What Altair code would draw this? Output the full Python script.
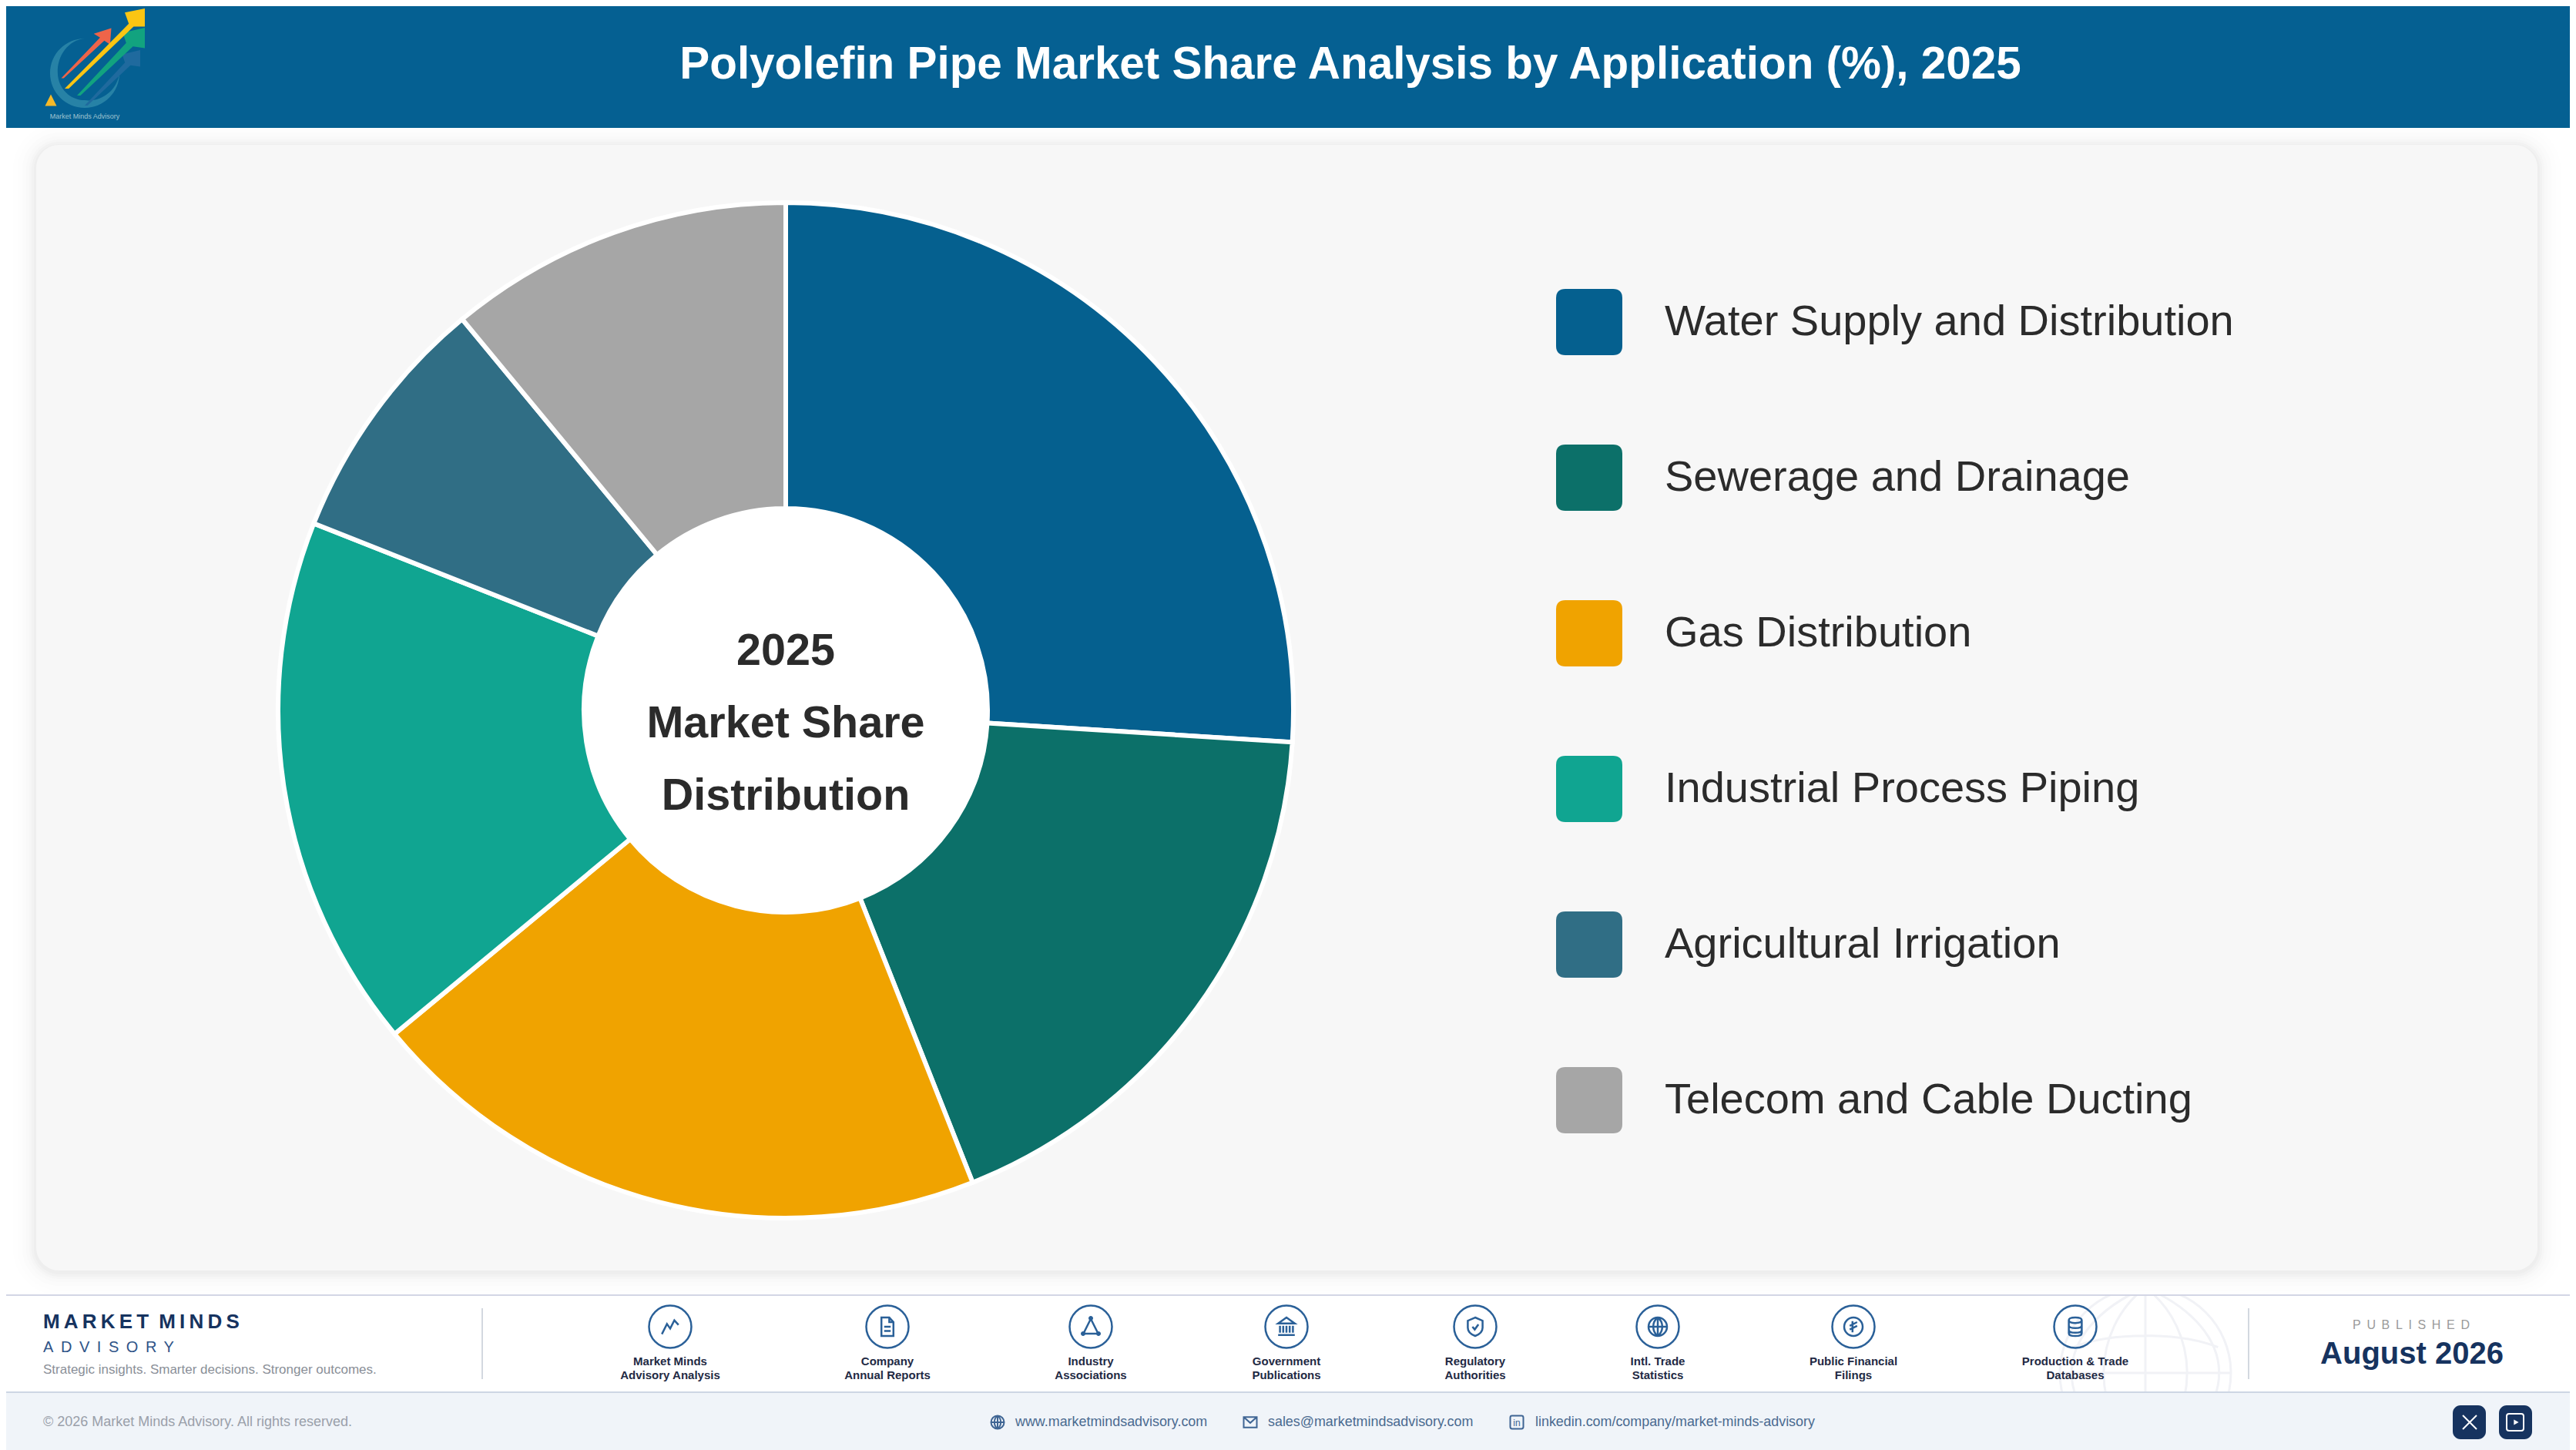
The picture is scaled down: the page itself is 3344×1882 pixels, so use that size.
import pandas as pd
import altair as alt

# chart values
applications = ["Water Supply and Distribution", "Sewerage and Drainage", "Gas Distribution",
                "Industrial Process Piping", "Agricultural Irrigation", "Telecom and Cable Ducting"]
shares = [26, 18, 20, 17, 8, 11]
colors = ["#05608f", "#0c7069", "#f0a300", "#10a591", "#306e85", "#a6a6a6"]

# texts
title_text = "Polyolefin Pipe Market Share Analysis by Application (%), 2025"
center_lines = ["2025", "Market Share", "Distribution"]
source_names = [["Market Minds", "Advisory Analysis"], ["Company", "Annual Reports"], ["Industry", "Associations"],
                ["Government", "Publications"], ["Regulatory", "Authorities"], ["Intl. Trade", "Statistics"],
                ["Public Financial", "Filings"], ["Production & Trade", "Databases"]]
source_x = [870, 1152, 1416, 1670, 1915, 2152, 2406, 2694]

FONT = "Liberation Sans"
HEADER = "#056092"
NAVY = "#16335f"
ICON = "#2a6098"
OFF = 8  # page margin, reference pixels -> chart pixels
seed = pd.DataFrame({"a": [0]})


def rect(x0, y0, x1, y1, fill, radius=0, opacity=1):
    return alt.Chart(seed).mark_rect(fill=fill, cornerRadius=radius, opacity=opacity).encode(
        x=alt.value(x0 - OFF), x2=alt.value(x1 - OFF), y=alt.value(y0 - OFF), y2=alt.value(y1 - OFF))


def label(text, x, y, size, color, bold=False, align="left"):
    return alt.Chart(seed).mark_text(text=text, font=FONT, fontSize=size, color=color, align=align,
                                     baseline="middle", fontWeight="bold" if bold else "normal").encode(
        x=alt.value(x - OFF), y=alt.value(y - OFF))


def icon(path, x, y, side, stroke=ICON, width=2.5, fill=None, opacity=1):
    if fill:
        mark = alt.Chart(seed).mark_point(shape=path, size=side ** 2, filled=True, fill=fill, strokeWidth=0, opacity=opacity)
    else:
        mark = alt.Chart(seed).mark_point(shape=path, size=side ** 2, filled=False, stroke=stroke, strokeWidth=width, opacity=opacity)
    return mark.encode(x=alt.value(x - OFF), y=alt.value(y - OFF))


CIRCLE = "M-1,0A1,1 0 1,1 1,0A1,1 0 1,1 -1,0Z"
GLOBE = CIRCLE + "M-1,0H1M0,-1V1M0,-1C-0.65,-0.5 -0.65,0.5 0,1M0,-1C0.65,-0.5 0.65,0.5 0,1"
WATERMARK = GLOBE + "M-0.85,-0.3C-0.4,-0.48 0.4,-0.48 0.85,-0.3M0,-1C-1.15,-0.5 -1.15,0.5 0,1M0,-1C1.15,-0.5 1.15,0.5 0,1"
ROUND_SQUARE = "M-0.72,-1H0.72Q1,-1 1,-0.72V0.72Q1,1 0.72,1H-0.72Q-1,1 -1,0.72V-0.72Q-1,-1 -0.72,-1Z"
source_icons = [
    "M-0.9,0.8L-0.35,-0.3L0,0.2L0.45,-0.7L0.9,-0.2",
    "M-0.65,-1H0.2L0.65,-0.5V1H-0.65ZM0.2,-1V-0.5H0.65M-0.35,0H0.35M-0.35,0.45H0.35",
    "M0,-0.85L0.8,0.75H-0.8Z",
    "M0,-1L0.9,-0.35H-0.9ZM-0.7,-0.1V0.65M-0.35,-0.1V0.65M0,-0.1V0.65M0.35,-0.1V0.65M0.7,-0.1V0.65M-0.9,0.9H0.9",
    "M0,-1L0.8,-0.65V0.1C0.8,0.55 0.4,0.85 0,1C-0.4,0.85 -0.8,0.55 -0.8,0.1V-0.65ZM-0.3,0L-0.05,0.3L0.35,-0.25",
    GLOBE,
    CIRCLE + "M0.4,-0.5L-0.4,-0.1M0.4,-0.1L-0.4,0.3M-0.1,-0.6V0.6",
    "M-0.7,-0.7C-0.7,-1.1 0.7,-1.1 0.7,-0.7V0.7C0.7,1.1 -0.7,1.1 -0.7,0.7ZM-0.7,-0.7C-0.7,-0.3 0.7,-0.3 0.7,-0.7M-0.7,-0.15C-0.7,0.25 0.7,0.25 0.7,-0.15M-0.7,0.35C-0.7,0.75 0.7,0.75 0.7,0.35",
]

layers = []

# page bands
layers.append(rect(0, 0, 3352, 1890, "#ffffff"))
layers.append(icon(WATERMARK, 2785, 1782, 222, stroke="#f1f2f6", width=3))
layers.append(rect(0, 1560, 3352, 1680, "#ffffff"))
layers.append(rect(0, 0, 3352, 166, HEADER))

# logo
layers.append(icon("M0,-1A1,1 0 1,0 1,0A0.9,0.9 0 0,1 0,0.78A0.78,0.8 0 0,1 -0.78,0A0.85,0.95 0 0,1 0,-1Z", 110, 95, 90, fill="#2b86a8", opacity=0.9))
layers.append(icon("M-1,1L0.55,-0.62L0.3,-0.78L1,-1L0.95,-0.35L0.72,-0.5L-0.9,1Z", 112, 69, 65, fill="#ee6449"))
layers.append(icon("M-1,1L0.45,-0.55L0.35,-0.85L1,-1L1,-0.4L0.65,-0.45L-0.9,1Z", 146, 101, 72, fill="#1f6a9e"))
layers.append(icon("M-1,1L0.45,-0.55L0.35,-0.85L1,-1L1,-0.4L0.65,-0.45L-0.9,1Z", 144, 80, 88, fill="#12a37f"))
layers.append(icon("M-1,1L0.6,-0.62L0.5,-0.9L1,-1L1,-0.55L0.72,-0.55L-0.9,1Z", 136, 63, 104, fill="#fbc513"))
layers.append(icon("M0,-1L1,1H-1Z", 66, 130, 15, fill="#f7b928"))
layers.append(label("Market Minds Advisory", 110, 151, 9, "#9fc3d0", align="center"))

# header title
layers.append(label(title_text, 1753, 84, 58.4, "#ffffff", bold=True, align="center"))

# card with a soft shadow
for spread, alpha in [(30, 0.006), (24, 0.008), (18, 0.012), (13, 0.016), (9, 0.02), (6, 0.022), (3, 0.024)]:
    layers.append(rect(47 - spread, 188 - spread + 2, 3294 + spread, 1649 + spread + 2, "#606060", radius=30 + spread, opacity=alpha))
layers.append(rect(47, 188, 3294, 1649, "#f7f7f7", radius=30))

# donut
pie_df = pd.DataFrame({"application": applications, "share": shares, "idx": list(range(len(shares)))})
donut = alt.Chart(pie_df).mark_arc(innerRadius=262, outerRadius=659, stroke="#ffffff", strokeWidth=6).encode(
    theta=alt.Theta("share:Q", stack=True),
    order=alt.Order("idx:Q"),
    color=alt.Color("application:N", sort=applications,
                    scale=alt.Scale(domain=applications, range=colors),
                    legend=alt.Legend(orient="none", legendX=2020 - OFF, legendY=375 - OFF, title=None, padding=0,
                                      symbolType=ROUND_SQUARE, symbolSize=7396, symbolStrokeWidth=0, symbolOpacity=1,
                                      labelFont=FONT, labelFontSize=56, labelColor="#2b2b2b", labelLimit=0,
                                      labelOffset=55, rowPadding=116)),
    x=alt.value(1020 - OFF),
    y=alt.value(922 - OFF),
)
layers.append(donut)
layers.append(icon(CIRCLE, 1020, 922, 522, fill="#ffffff"))
for line, y in zip(center_lines, [846, 940, 1034]):
    layers.append(label(line, 1020, y, 57.5, "#2b2b2b", bold=True, align="center"))

# footer
layers.append(rect(0, 1680, 3352, 1682, "#d3d6e5"))
layers.append(rect(0, 1806, 3352, 1890, "#f0f4f9"))
layers.append(rect(0, 1806, 3352, 1808, "#cdd6e4"))

layers.append(label("M\u2009A\u2009R\u2009K\u2009E\u2009T\u2002M\u2009I\u2009N\u2009D\u2009S", 56, 1716, 26, NAVY, bold=True))
layers.append(label("A\u2009 D\u2009 V\u2009 I\u2009 S\u2009 O\u2009 R\u2009 Y", 56, 1749, 20, "#2f5488"))
layers.append(label("Strategic insights. Smarter decisions. Stronger outcomes.", 56, 1778, 17, "#8a8f98"))
layers.append(rect(625, 1698, 627, 1790, "#d3d8e0"))

for names, x, path in zip(source_names, source_x, source_icons):
    layers.append(icon(CIRCLE, x, 1722, 55, width=2.5))
    layers.append(icon(path, x, 1722, 24, width=2.5))
    layers.append(label(names[0], x, 1767, 15, "#1f2a44", bold=True, align="center"))
    layers.append(label(names[1], x, 1785, 15, "#1f2a44", bold=True, align="center"))
for dx, dy in [(0, -11), (-10, 9), (10, 9)]:
    layers.append(icon(CIRCLE, 1416 + dx, 1722 + dy, 6, fill=ICON))

layers.append(rect(2918, 1698, 2920, 1790, "#d3d8e0"))
layers.append(label("P\u2009 U\u2009 B\u2009 L\u2009 I\u2009 S\u2009 H\u2009 E\u2009 D", 3130, 1720, 16, "#9a9a9a", align="center"))
layers.append(label("August 2026", 3131, 1758, 40, NAVY, bold=True, align="center"))

layers.append(label("\u00a9 2026 Market Minds Advisory. All rights reserved.", 56, 1846, 18, "#9aa0aa"))
for x, path in [(1295, GLOBE), (1969, ROUND_SQUARE)]:
    layers.append(icon(path, x, 1846, 17, stroke="#3f6594", width=2))
layers.append(icon("M-1,-0.8H1V0.8H-1ZM-1,-0.8L0,0.1L1,-0.8", 1623, 1846, 17, stroke="#3f6594", width=2))
layers.append(label("in", 1969, 1847, 12, "#3f6594", align="center"))
layers.append(label("www.marketmindsadvisory.com", 1318, 1846, 17.9, "#4a6a90"))
layers.append(label("sales@marketmindsadvisory.com", 1646, 1846, 17.9, "#4a6a90"))
layers.append(label("linkedin.com/company/market-minds-advisory", 1993, 1846, 17.9, "#4a6a90"))

layers.append(rect(3184, 1824, 3227, 1868, NAVY, radius=10))
layers.append(rect(3244, 1824, 3287, 1868, NAVY, radius=10))
layers.append(icon("M-1,-1L1,1M1,-1L-1,1", 3206, 1846, 18, stroke="#ffffff", width=2))
layers.append(icon(ROUND_SQUARE, 3265, 1846, 22, stroke="#ffffff", width=2))
layers.append(icon("M-0.6,-0.8L0.8,0L-0.6,0.8Z", 3266, 1846, 9, fill="#ffffff"))

chart = alt.layer(*layers).properties(
    width=3328, height=1874, padding=0,
    autosize=alt.AutoSizeParams(type="none"),
    background="#ffffff",
).configure_view(stroke=None)

chart.save("out.html", embed_options={"renderer": "svg", "actions": False})
